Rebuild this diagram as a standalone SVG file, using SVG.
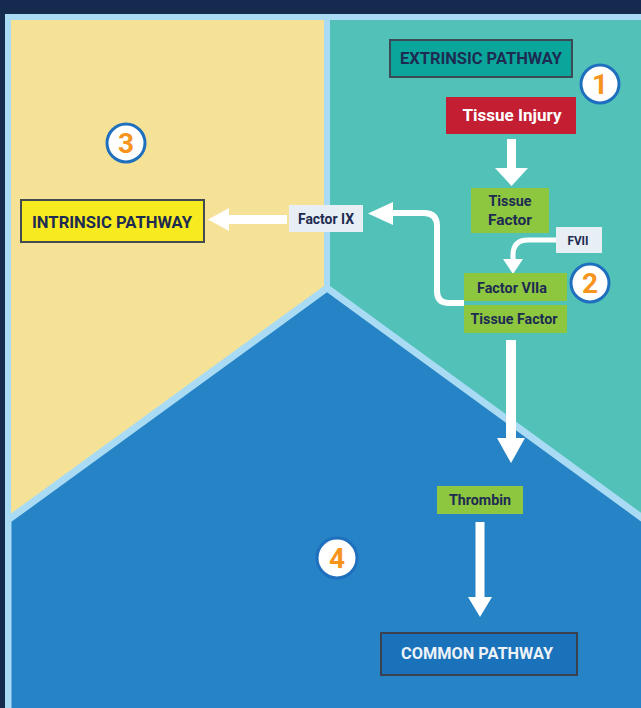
<svg xmlns="http://www.w3.org/2000/svg" width="641" height="708" viewBox="0 0 641 708">
<style>
.t{font-family:Roboto,"Liberation Sans",sans-serif;font-weight:700;text-anchor:middle}
.navy{fill:#1d2b52}
.g{fill:#8dc63f}
.lt{fill:#e7eef4}
.ln{fill:none;stroke:#ffffff;stroke-linecap:butt;stroke-linejoin:round}
.ah{fill:#ffffff}
.circ{fill:#ffffff;stroke:#1f6fbf;stroke-width:3}
.num{font-family:Roboto,"Liberation Sans",sans-serif;font-weight:700;font-size:28px;fill:#f7941d;text-anchor:middle}
</style>
<g id="background">
<rect x="0" y="0" width="641" height="708" fill="#152a4f"/>
<rect x="5" y="14" width="636" height="694" fill="#a9dcf4"/>
<rect x="11" y="20" width="313" height="500" fill="#f5e297"/>
<rect x="330" y="20" width="311" height="500" fill="#52c2b9"/>
<polygon points="327,288 645,520 645,712 8,712 8,520" fill="#2683c6" stroke="#a9dcf4" stroke-width="7" stroke-linejoin="miter"/>
<rect x="0" y="14" width="5" height="694" fill="#152a4f"/>
</g>
<g id="connectors">
<line class="ln" x1="511.5" y1="139" x2="511.5" y2="170" stroke-width="9"/>
<polygon class="ah" points="495,168 528,168 511.5,186"/>
<path class="ln" d="M556,240 H528 Q513,240 513,255 V262" stroke-width="5"/>
<polygon class="ah" points="503,259 523,259 513,274"/>
<path class="ln" d="M464,303 H449 Q437,303 437,291 V226 Q437,213 424,213 H390" stroke-width="6"/>
<polygon class="ah" points="393,202 393,225 368,213.5"/>
<line class="ln" x1="228" y1="219.5" x2="287" y2="219.5" stroke-width="9"/>
<polygon class="ah" points="229,208 229,231 208,219.5"/>
<line class="ln" x1="511" y1="340" x2="511" y2="440" stroke-width="10"/>
<polygon class="ah" points="497,438 525,438 511,463"/>
<line class="ln" x1="480" y1="522" x2="480" y2="599" stroke-width="9"/>
<polygon class="ah" points="468,597 492,597 480,617"/>
</g>
<g id="extrinsic-pathway">
<rect x="390" y="40" width="182" height="37" fill="#0aa69b" stroke="#3b4a55" stroke-width="2"/>
<text class="t navy" x="481" y="64" font-size="17" textLength="162" lengthAdjust="spacingAndGlyphs">EXTRINSIC PATHWAY</text>
</g>
<g id="marker-1">
<circle class="circ" cx="600" cy="84" r="19"/>
<text class="num" x="600" y="94">1</text>
</g>
<g id="tissue-injury">
<rect x="446" y="97" width="130" height="37" fill="#c41e33"/>
<text class="t" x="512" y="121" font-size="17" fill="#ffffff" textLength="99" lengthAdjust="spacingAndGlyphs">Tissue Injury</text>
</g>
<g id="tissue-factor">
<rect class="g" x="471" y="188" width="78" height="45"/>
<text class="t navy" x="510" y="206" font-size="15" textLength="43" lengthAdjust="spacingAndGlyphs">Tissue</text>
<text class="t navy" x="510" y="225" font-size="15" textLength="44" lengthAdjust="spacingAndGlyphs">Factor</text>
</g>
<g id="fvii">
<rect class="lt" x="556" y="227" width="46" height="26"/>
<text class="t navy" x="578" y="245" font-size="12" textLength="21" lengthAdjust="spacingAndGlyphs">FVII</text>
</g>
<g id="factor-viia">
<rect class="g" x="464" y="273" width="103" height="28"/>
<text class="t navy" x="512" y="293" font-size="15" textLength="70" lengthAdjust="spacingAndGlyphs">Factor VIIa</text>
</g>
<g id="tissue-factor-2">
<rect class="g" x="464" y="305" width="103" height="28"/>
<text class="t navy" x="514" y="324" font-size="15" textLength="87" lengthAdjust="spacingAndGlyphs">Tissue Factor</text>
</g>
<g id="marker-2">
<circle class="circ" cx="590" cy="283" r="19"/>
<text class="num" x="590" y="293">2</text>
</g>
<g id="factor-ix">
<rect class="lt" x="289" y="205" width="74" height="27"/>
<text class="t navy" x="326" y="224" font-size="14" font-weight="500" textLength="56" lengthAdjust="spacingAndGlyphs">Factor IX</text>
</g>
<g id="intrinsic-pathway">
<rect x="21" y="200" width="183" height="42" fill="#f7ea1f" stroke="#444b50" stroke-width="2"/>
<text class="t navy" x="112" y="228" font-size="17" textLength="160" lengthAdjust="spacingAndGlyphs">INTRINSIC PATHWAY</text>
</g>
<g id="marker-3">
<circle class="circ" cx="126" cy="143" r="19"/>
<text class="num" x="126" y="153">3</text>
</g>
<g id="thrombin">
<rect class="g" x="437" y="486" width="86" height="28"/>
<text class="t navy" x="480" y="505" font-size="14" textLength="62" lengthAdjust="spacingAndGlyphs">Thrombin</text>
</g>
<g id="marker-4">
<circle class="circ" cx="337" cy="558" r="20"/>
<text class="num" x="337" y="568">4</text>
</g>
<g id="common-pathway">
<rect x="381" y="633" width="196" height="42" fill="#1a72bb" stroke="#3a4250" stroke-width="2"/>
<text class="t" x="477" y="659" font-size="17" fill="#eef3f8" textLength="152" lengthAdjust="spacingAndGlyphs">COMMON PATHWAY</text>
</g>
</svg>
